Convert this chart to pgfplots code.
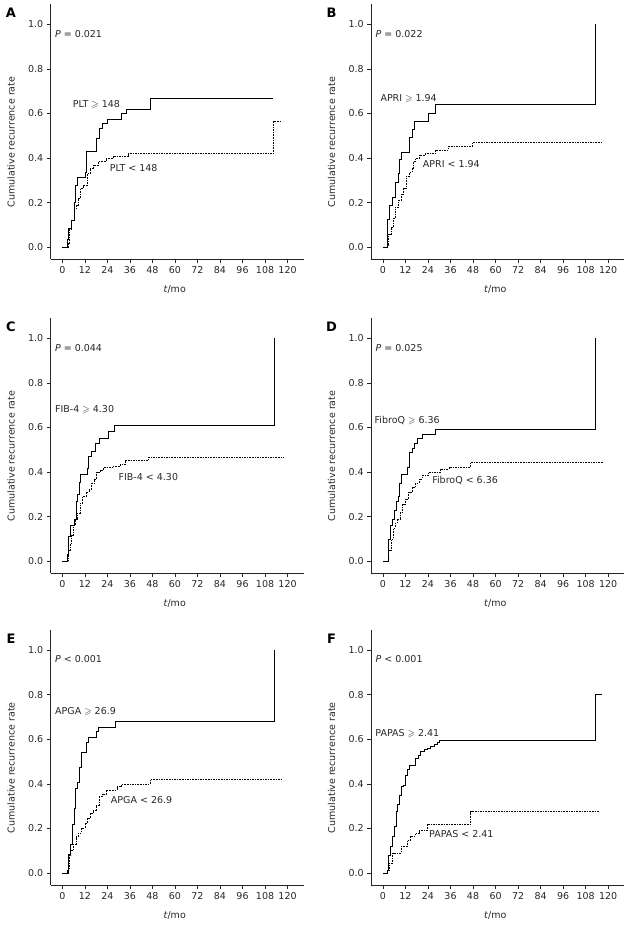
\documentclass[border=0pt]{standalone}
\usepackage{fontspec}
\setmainfont{DejaVu Sans}
\usepackage{amssymb}
\usepackage{pgfplots}
\pgfplotsset{compat=1.18}
\newcommand{\tf}{\fontsize{9.5}{11}\selectfont}
\pgfplotsset{
 km/.style={
  scale only axis, width=253pt, height=255pt,
  xmin=-6.2, xmax=128.6, ymin=-0.054, ymax=1.09,
  axis x line*=bottom, axis y line*=left,
  axis line style={line width=0.6pt, black!85},
  tick align=outside, major tick length=4pt,
  tick style={line width=0.6pt, black!85},
  xtick={0,12,24,36,48,60,72,84,96,108,120},
  ytick={0,0.2,0.4,0.6,0.8,1.0},
  y tick label style={/pgf/number format/.cd, fixed, fixed zerofill, precision=1, /tikz/.cd},
  /pgf/number format/assume math mode=true,
  tick label style={font=\tf, text=black!85},
  label style={font=\tf, text=black!85},
  xlabel={\textit{t}/mo}, ylabel={Cumulative recurrence rate},
  xlabel style={at={(axis description cs:0.49,-0.118)}, anchor=center},
  ylabel style={at={(axis description cs:-0.157,0.46)}, anchor=center},
  clip=false,
  anchor=south west,
 },
 solidkm/.style={const plot, black, line width=0.6pt, no marks},
 dashkm/.style={const plot, black, line width=0.5pt, dash pattern=on 1.6pt off 1pt, no marks},
}
\newcommand{\panel}[1]{\node[font=\bfseries\fontsize{13}{13}\selectfont] at (rel axis cs:-0.157,0.965) {#1};}
\newcommand{\note}[3]{\node[anchor=west, font=\tf, text=black!85, inner sep=0pt] at (axis cs:#1,#2) {#3};}
\begin{document}
\begin{tikzpicture}
\useasboundingbox (0,0) rectangle (633pt,926pt);
% A
\begin{axis}[km, at={(50.7pt,666.7pt)}]
\addplot[solidkm] coordinates {(0,0)(2.8,0.035)(3.3,0.085)(5,0.12)(6.2,0.2)(6.8,0.28)(8,0.315)(12.2,0.335)(13,0.43)(18.3,0.49)(19.6,0.535)(21.5,0.555)(24,0.575)(31.2,0.6)(34,0.62)(47,0.667)(112.5,0.667)};
\addplot[dashkm] coordinates {(0,0)(3,0.02)(3.6,0.08)(5,0.12)(6.2,0.17)(7.5,0.19)(8.5,0.22)(9.8,0.265)(11.2,0.28)(13.3,0.33)(14.8,0.355)(16.5,0.37)(19.2,0.385)(23.3,0.4)(27.2,0.41)(35,0.42)(112.5,0.565)(117,0.565)};
\panel{A}
\note{-4}{0.958}{\textit{P} = 0.021}
\note{5.5}{0.64}{PLT $\geqslant$ 148}
\note{25.2}{0.355}{PLT < 148}
\end{axis}
% B
\begin{axis}[km, at={(371.3pt,666.7pt)}]
\addplot[solidkm] coordinates {(0,0)(2.1,0.03)(2.5,0.125)(3.4,0.19)(5.2,0.225)(6.6,0.29)(8,0.33)(8.9,0.395)(9.8,0.425)(14.3,0.495)(15.5,0.53)(16.9,0.565)(24.4,0.6)(28,0.64)(113.2,1.0)};
\addplot[dashkm] coordinates {(0,0)(2.1,0.01)(3,0.06)(4.5,0.09)(5.7,0.13)(6.6,0.18)(8.4,0.21)(9.8,0.24)(11,0.265)(12.3,0.32)(14.1,0.335)(15.5,0.355)(16.4,0.385)(17.3,0.4)(19.1,0.415)(22.6,0.42)(28,0.437)(35,0.453)(47.6,0.47)(117.2,0.47)};
\panel{B}
\note{-4}{0.958}{\textit{P} = 0.022}
\note{-1.4}{0.667}{APRI $\geqslant$ 1.94}
\note{21.2}{0.373}{APRI < 1.94}
\end{axis}
% C
\begin{axis}[km, at={(50.7pt,352.7pt)}]
\addplot[solidkm] coordinates {(0,0)(2.8,0.03)(3.2,0.11)(4.1,0.16)(6.2,0.19)(7.3,0.27)(8.2,0.3)(8.9,0.355)(9.8,0.39)(13.3,0.415)(13.9,0.47)(15.6,0.495)(17.8,0.527)(19.7,0.552)(24.5,0.582)(27.7,0.61)(113,1.0)};
\addplot[dashkm] coordinates {(0,0)(2.8,0.005)(3.2,0.05)(4.1,0.08)(5,0.115)(5.9,0.16)(6.8,0.19)(8,0.215)(9.4,0.26)(10.8,0.29)(12.6,0.31)(14.4,0.325)(15.6,0.35)(17.1,0.37)(18.3,0.4)(20.1,0.41)(21.9,0.42)(27.2,0.427)(30.8,0.433)(33.4,0.452)(45.9,0.467)(117.9,0.467)};
\panel{C}
\note{-4}{0.958}{\textit{P} = 0.044}
\note{-3.9}{0.681}{FIB-4 $\geqslant$ 4.30}
\note{29.9}{0.378}{FIB-4 < 4.30}
\end{axis}
% D
\begin{axis}[km, at={(371.3pt,352.7pt)}]
\addplot[solidkm] coordinates {(0,0)(3,0.1)(3.9,0.16)(5.2,0.19)(6.1,0.23)(7.1,0.27)(8,0.29)(8.9,0.35)(9.8,0.39)(12.8,0.42)(14.1,0.49)(15.5,0.505)(16.9,0.527)(18.2,0.55)(21,0.57)(28,0.594)(113.2,1.0)};
\addplot[dashkm] coordinates {(0,0)(2.7,0.01)(3,0.05)(4.5,0.1)(5.7,0.15)(6.6,0.17)(7.5,0.19)(9.3,0.22)(10.5,0.255)(11.9,0.28)(13.7,0.31)(15.5,0.33)(17.3,0.35)(19.1,0.37)(20.9,0.385)(24.4,0.4)(30.7,0.415)(35.1,0.422)(46.7,0.445)(117.2,0.445)};
\panel{D}
\note{-4}{0.958}{\textit{P} = 0.025}
\note{-4.5}{0.631}{FibroQ $\geqslant$ 6.36}
\note{26.2}{0.363}{FibroQ < 6.36}
\end{axis}
% E
\begin{axis}[km, at={(50.7pt,41pt)}]
\addplot[solidkm] coordinates {(0,0)(3.2,0.085)(4.4,0.13)(5.3,0.22)(6.2,0.29)(6.9,0.38)(8,0.405)(9.1,0.475)(10,0.54)(13,0.585)(13.9,0.61)(18.3,0.635)(19.2,0.655)(28,0.68)(113,1.0)};
\addplot[dashkm] coordinates {(0,0)(2.8,0.013)(3.6,0.08)(4.4,0.1)(5.9,0.13)(7.3,0.163)(8.5,0.178)(10.3,0.2)(12.1,0.223)(13.3,0.245)(14.8,0.268)(16.5,0.283)(18,0.305)(19.7,0.342)(21,0.353)(23.3,0.372)(29,0.387)(31.6,0.398)(46.8,0.42)(117,0.42)};
\panel{E}
\note{-4}{0.958}{\textit{P} < 0.001}
\note{-3.9}{0.723}{APGA $\geqslant$ 26.9}
\note{25.8}{0.327}{APGA < 26.9}
\end{axis}
% F
\begin{axis}[km, at={(371.3pt,41pt)}]
\addplot[solidkm] coordinates {(0,0)(2.1,0.01)(3,0.08)(3.9,0.12)(5.2,0.163)(6.1,0.208)(7,0.276)(7.8,0.306)(8.9,0.35)(9.8,0.388)(11.1,0.395)(11.9,0.44)(12.8,0.463)(14.3,0.485)(17.3,0.515)(18.7,0.53)(20,0.545)(21.8,0.553)(23.5,0.56)(25.3,0.568)(27.1,0.575)(28.9,0.586)(30.1,0.593)(113.2,0.8)(116.8,0.8)};
\addplot[dashkm] coordinates {(0,0)(2.1,0.01)(3.4,0.045)(5.2,0.09)(9.8,0.12)(12.8,0.145)(14.6,0.165)(17.3,0.18)(19.1,0.19)(23.5,0.218)(46.7,0.275)(115,0.275)};
\panel{F}
\note{-4}{0.958}{\textit{P} < 0.001}
\note{-4.1}{0.626}{PAPAS $\geqslant$ 2.41}
\note{24.5}{0.175}{PAPAS < 2.41}
\end{axis}
\end{tikzpicture}
\end{document}
